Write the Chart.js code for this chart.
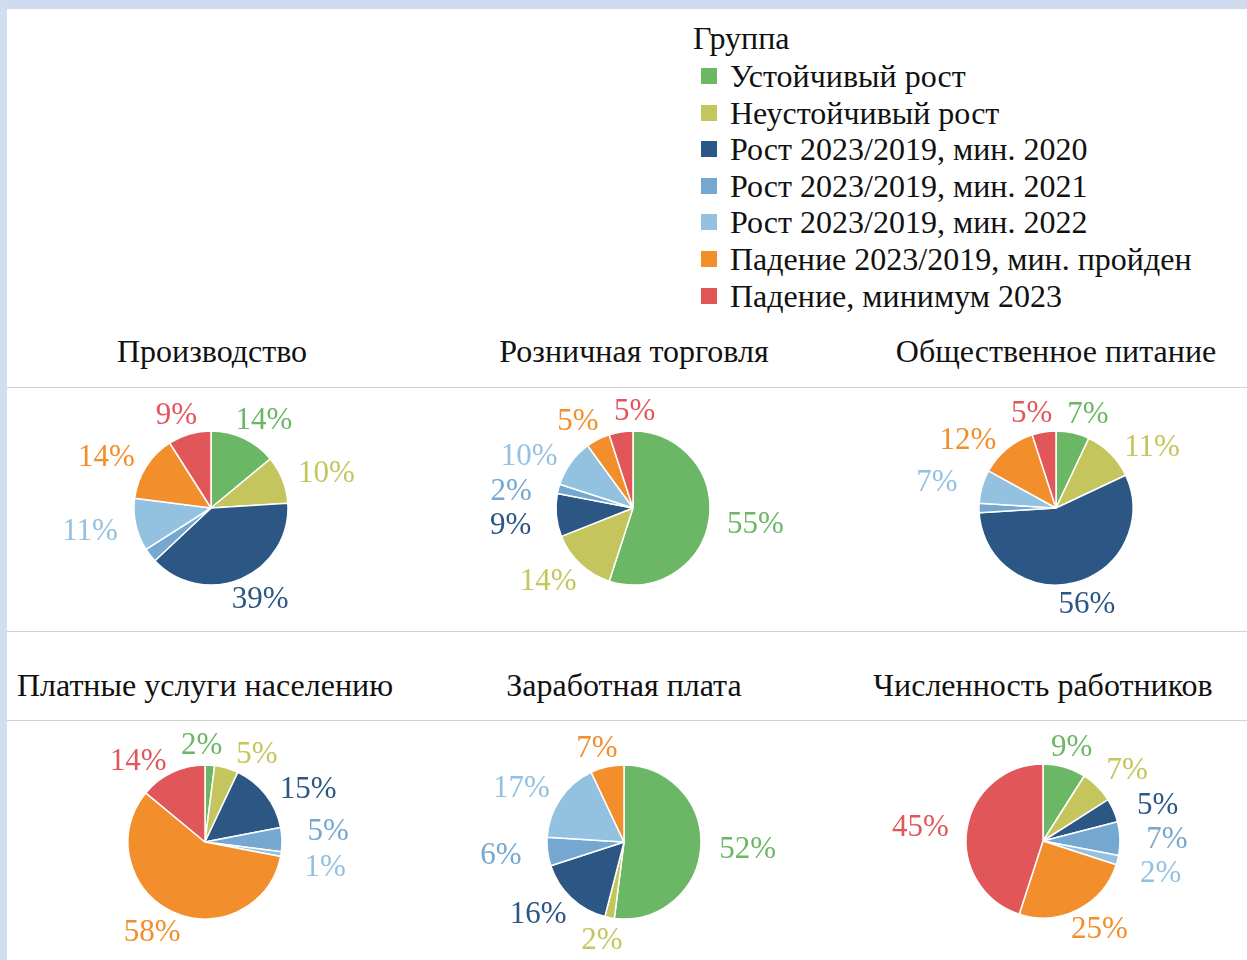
<!DOCTYPE html>
<html><head><meta charset="utf-8">
<script src="https://cdn.jsdelivr.net/npm/chart.js@4/dist/chart.umd.min.js"></script>
<style>
html,body{margin:0;padding:0;background:#fff;}
#page{position:relative;width:1247px;height:960px;overflow:hidden;background:#fff;font-family:"Liberation Serif","Times New Roman",serif;color:#111;}
#topband{position:absolute;left:0;top:0;width:1247px;height:9px;background:#cfdaef;}
#leftband{position:absolute;left:0;top:0;width:7px;height:960px;background:#d3ddf0;}
.sep{position:absolute;left:7px;width:1240px;height:1px;background:#d2d2d2;}
.title{position:absolute;font-size:32px;line-height:36px;white-space:nowrap;transform:translate(-50%,-50%);}
.lg-title{position:absolute;left:693px;top:20px;font-size:32px;line-height:36px;}
.lg-text{position:absolute;left:730px;font-size:32px;line-height:36px;white-space:nowrap;}
.lg-sw{position:absolute;left:701px;width:16px;height:16px;}
.pie{position:absolute;}
</style></head>
<body><div id="page">
<div id="topband"></div><div id="leftband"></div>
<div class="lg-title">Группа</div>
<div class="sep" style="top:387px"></div>
<div class="sep" style="top:631px"></div>
<div class="sep" style="top:720px"></div>
</div>
<script>
const groups = ["Устойчивый рост","Неустойчивый рост","Рост 2023/2019, мин. 2020","Рост 2023/2019, мин. 2021","Рост 2023/2019, мин. 2022","Падение 2023/2019, мин. пройден","Падение, минимум 2023"];
const colors = ["#6cb766","#c5c55e","#2c5784","#75a8d0","#93c1e0","#f28e2b","#e05659"];

const chartTitles = ["Производство","Розничная торговля","Общественное питание","Платные услуги населению","Заработная плата","Численность работников"];

const production = [14,10,39,3,11,14,9];
const retail     = [55,14,9,2,10,5,5];
const catering   = [7,11,56,2,7,12,5];
const services   = [2,5,15,5,1,58,14];
const wages      = [52,2,16,6,17,7,0];
const employees  = [9,7,5,7,2,25,45];

const productionLabels = ["14%","10%","39%","","11%","14%","9%"];
const retailLabels     = ["55%","14%","9%","2%","10%","5%","5%"];
const cateringLabels   = ["7%","11%","56%","","7%","12%","5%"];
const servicesLabels   = ["2%","5%","15%","5%","1%","58%","14%"];
const wagesLabels      = ["52%","2%","16%","6%","17%","7%",""];
const employeesLabels  = ["9%","7%","5%","7%","2%","25%","45%"];

const seriesList = [production,retail,catering,services,wages,employees];
const labelList = [productionLabels,retailLabels,cateringLabels,servicesLabels,wagesLabels,employeesLabels];

// layout
const pieCenters = [[211,508],[633,508],[1056,508],[205,842],[624,842],[1043,841]];
const titlePos = [[212,351],[634,351],[1056,351],[205,685],[624,685],[1043,685]];
const R = 77;
const CW = 440, CH = 300;

const page = document.getElementById('page');
groups.forEach((g,i)=>{
  const cy = 76 + i*36.6;
  const s = document.createElement('div');
  s.className='lg-sw'; s.style.top=(cy-8)+'px'; s.style.background=colors[i];
  page.appendChild(s);
  const t = document.createElement('div');
  t.className='lg-text'; t.style.top=(cy-18)+'px'; t.textContent=g;
  page.appendChild(t);
});
chartTitles.forEach((t,i)=>{
  const d=document.createElement('div');
  d.className='title';
  d.style.left=titlePos[i][0]+'px';
  d.style.top=titlePos[i][1]+'px';
  d.textContent=t;
  page.appendChild(d);
});

function wrap(a){while(a>Math.PI)a-=2*Math.PI;while(a<=-Math.PI)a+=2*Math.PI;return a;}

const outLabels = {
  id:'outLabels',
  afterDatasetsDraw(chart, args, opts){
    const ctx = chart.ctx;
    const meta = chart.getDatasetMeta(0);
    const labs = opts.labels;
    ctx.save();
    ctx.font = '31px "Liberation Serif", "Times New Roman", serif';
    ctx.textAlign='center';
    ctx.textBaseline='middle';
    const items=[];
    let cx=0,cy=0,rad=0;
    meta.data.forEach((arc,i)=>{
      const p = arc.getProps(['x','y','startAngle','endAngle','outerRadius'],true);
      cx=p.x;cy=p.y;rad=p.outerRadius;
      const t = labs[i];
      if(!t) return;
      items.push({i,t,ang:(p.startAngle+p.endAngle)/2,w:ctx.measureText(t).width});
    });
    const ax = rad + 47, ay = rad + 21;
    const pos = it => [cx+Math.cos(it.ang)*ax, cy+Math.sin(it.ang)*ay];
    const padX = 14, H = 34, step = 0.01;
    for(let iter=0; iter<400; iter++){
      let moved=false;
      for(let a=0;a<items.length;a++){
        for(let b=a+1;b<items.length;b++){
          const A=items[a],B=items[b];
          const pa=pos(A),pb=pos(B);
          if(Math.abs(pa[0]-pb[0]) < (A.w+B.w)/2+padX && Math.abs(pa[1]-pb[1]) < H){
            const d = wrap(B.ang-A.ang);
            if(d>=0){A.ang-=step;B.ang+=step;}else{A.ang+=step;B.ang-=step;}
            moved=true;
          }
        }
      }
      if(!moved) break;
    }
    items.forEach(it=>{
      const p=pos(it);
      ctx.fillStyle = colors[it.i];
      ctx.fillText(it.t, p[0], p[1]+2);
    });
    ctx.restore();
  }
};

seriesList.forEach((vals,i)=>{
  const c = document.createElement('canvas');
  c.className='pie';
  c.width=CW; c.height=CH;
  c.style.width=CW+'px'; c.style.height=CH+'px';
  c.style.left=(pieCenters[i][0]-CW/2)+'px';
  c.style.top=(pieCenters[i][1]-CH/2)+'px';
  page.appendChild(c);
  const padX = (CW - 2*R - 1.5)/2, padY=(CH - 2*R - 1.5)/2;
  new Chart(c,{
    type:'pie',
    data:{labels:groups,datasets:[{data:vals,backgroundColor:colors,borderColor:'#ffffff',borderWidth:1.5}]},
    options:{
      responsive:false,animation:false,
      layout:{padding:{left:padX,right:padX,top:padY,bottom:padY}},
      plugins:{legend:{display:false},tooltip:{enabled:false},outLabels:{labels:labelList[i]}}
    },
    plugins:[outLabels]
  });
});
</script>
</body></html>
